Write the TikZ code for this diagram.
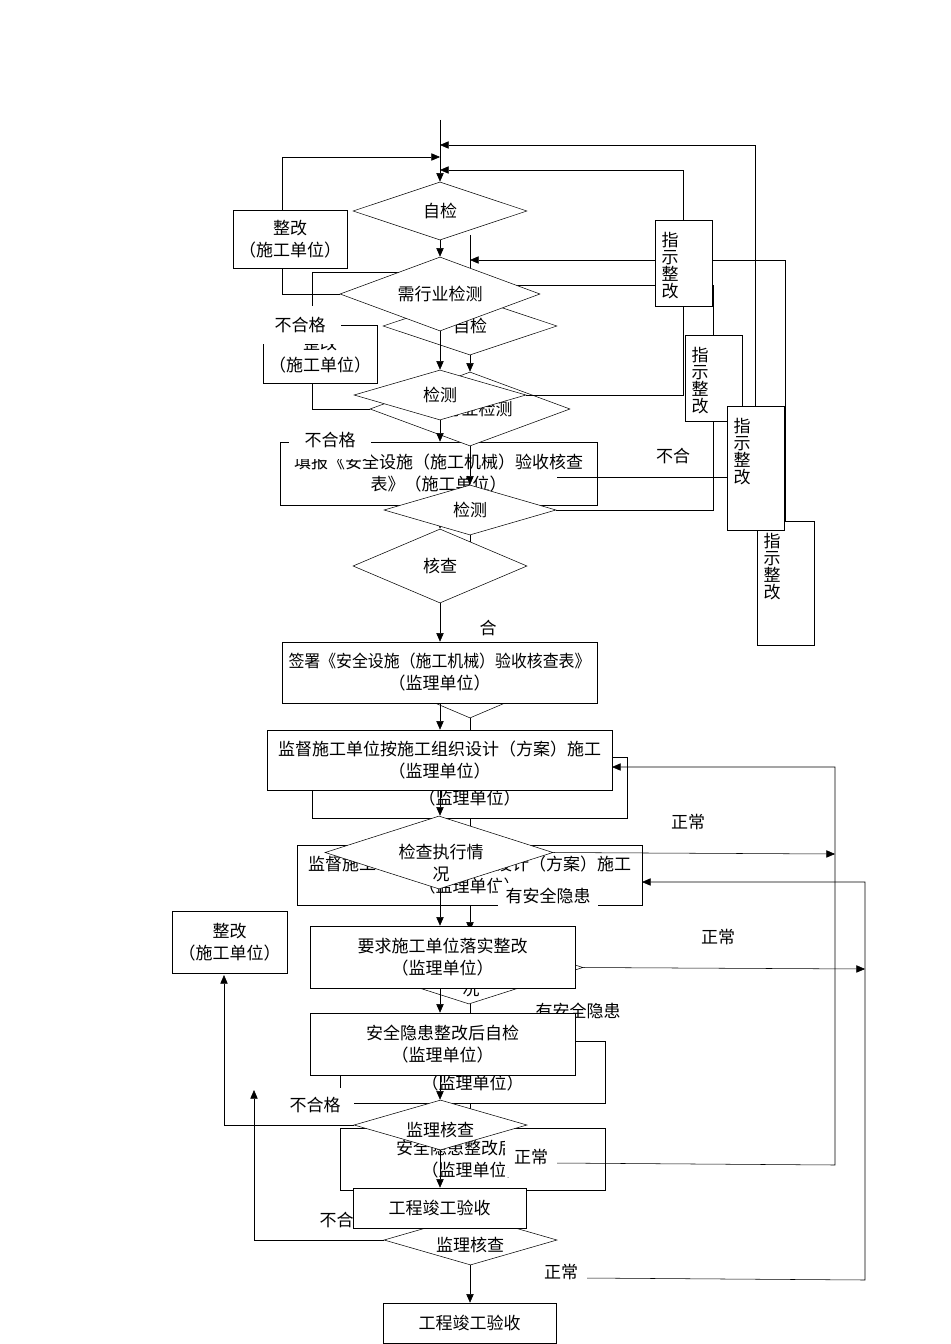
\documentclass[tikz,border=0pt]{standalone}
\usepackage{fontspec}
\usepackage{graphicx}
\newfontfamily\cjk{Noto Sans CJK SC}
\usetikzlibrary{shapes.geometric,arrows.meta}
\pgfdeclarelayer{lbg}
\pgfdeclarelayer{ltb}
\pgfdeclarelayer{lbl}
\pgfdeclarelayer{lbs}
\pgfdeclarelayer{lbt}
\pgfdeclarelayer{lal}
\pgfdeclarelayer{las}
\pgfsetlayers{lbg,ltb,lbl,lbs,lbt,lal,las,main}
% shapes of one copy of the chart
\newcommand\cpshapes[1]{%
  \node[dia,sz={174}{58}] (#1zj) at (440,211) {自检};
  \node[dia,sz={200}{74}] (#1xhy) at (440,294) {需行业检测};
  \node[dia,sz={172}{50}] (#1jc) at (440,395) {检测};
  \node[box,sz={114}{58}] (#1zga) at (290,239) {整改\\（施工单位）};
  \node[dia,sz={174}{74}] (#1hc) at (440,566) {核查};
  \node[box,sz={315}{61}] (#1qs) at (439.5,672.5) {\scalebox{0.935}[1]{签署《安全设施（施工机械）验收核查表》}\\（监理单位）};
  \node[box,sz={345}{60}] (#1jd) at (439.5,760) {监督施工单位按施工组织设计（方案）施工\\（监理单位）};
  \node[dia,sz={228}{73}] (#1jczx) at (439,852.5) {};
  \node[txt] (#1jczxt) at (441,863) {检查执行情\\况};
  \node[box,sz={265}{62}] (#1yq) at (442.5,957) {要求施工单位落实整改\\（监理单位）};
  \node[box,sz={265}{62}] (#1aq) at (442.5,1044) {安全隐患整改后自检\\（监理单位）};
  \node[dia,sz={173}{50}] (#1jl) at (440.5,1125) {};
  \node[txt] (#1jlt) at (440,1130) {监理核查};
  \node[box,sz={173}{40}] (#1gc) at (439.5,1208) {工程竣工验收};
  \node[box,sz={57}{86}] (#1zsa) at (683.5,263) {};
  \node[vtxt] (#1zsat) at (670,266) {指\\示\\整\\改};
  \node[box,sz={57}{124}] (#1zsc) at (755.5,468) {};
  \node[vtxt] (#1zsct) at (742,452) {指\\示\\整\\改};
}
% connectors of one copy
\newcommand\cplines[1]{%
  \coordinate (#1top) at (440,120);
  \coordinate (#1c145) at (440,145);
  \coordinate (#1c157) at (440,157);
  \coordinate (#1c170) at (440,170);
  \coordinate (#1zgt) at (282,210);
  \coordinate (#1zgb) at (282,268);
  \coordinate (#1c975) at (224,975);
  \coordinate (#1n1) at (835,854);
  \coordinate (#1n2) at (555,1163);
  \coordinate (#1n3) at (835,1165);
  \coordinate (#1n4) at (835,767);
  \coordinate (#1n5) at (612,767);
  \draw[arr] (#1top) -- (#1zj.north);
  \draw[arr] (#1zsc.north) |- (#1c145);
  \draw[arr] (#1zgt) |- (#1c157);
  \draw[arr] (#1zsa.north) |- (#1c170);
  \draw[arr] (#1zj.south) -- (#1xhy.north);
  \draw (#1zgb) |- (#1xhy.west);
  \draw[arr] (#1xhy.south) -- (#1jc.north);
  \draw (#1jc.east) -| (#1zsa.south);
  \draw[arr] (#1hc.south) -- (#1qs.north -| #1col);
  \draw[arr] (#1qs.south -| #1col) -- (#1jd.north -| #1col);
  \draw[arr] (#1jd.south -| #1col) -- (#1jczx.north -| #1col);
  \draw[arr] (#1jczx.south -| #1col) -- (#1yq.north -| #1col);
  \draw[arr] (#1yq.south -| #1col) -- (#1aq.north -| #1col);
  \draw[arr] (#1aq.south -| #1col) -- (#1jl.north -| #1col);
  \draw[arr] (#1jl.south -| #1col) -- (#1gc.north -| #1col);
  \draw[arr] (#1jl.west) -| (#1c975);
  \draw[arr] (#1jczx.east) -- (#1n1);
  \draw[arr] (#1n2) -- (#1n3) -- (#1n4) -- (#1n5);
}
% labels of one copy
\newcommand\cplabels[1]{%
  \node[lbl,sz={82}{38}] (#1bhg1) at (300,325) {不合格};
  \node[lbl,sz={78}{34}] (#1bhg2) at (315,1105) {不合格};
  \node[lbl,sz={100}{27}] (#1yaq) at (548,896) {有安全隐患};
  \node[txt] (#1zc1) at (688,822) {正常};
  \node[lbl,sz={52}{40}] (#1zc2) at (531,1157) {正常};
  \node[txt] (#1he) at (488,628) {合};
}
\begin{document}
\begin{tikzpicture}[x=0.75pt,y=-0.75pt,line width=0.8pt,
  txt/.style={font=\cjk\fontsize{12.75pt}{16.5pt}\selectfont, align=center, inner sep=0pt},
  vtxt/.style={font=\cjk\fontsize{12.75pt}{12.75pt}\selectfont, align=center, inner sep=0pt},
  sz/.style 2 args={minimum width=#1*0.75pt, minimum height=#2*0.75pt},
  box/.style={txt, draw, fill=white, rectangle},
  dia/.style={txt, draw, fill=white, diamond, aspect=3},
  lbl/.style={txt, fill=white},
  arr/.style={-{Triangle[length=6.5pt,width=5.5pt]}}]
\begin{pgfonlayer}{lbg}
  \fill[white] (0,0) rectangle (950,1344);
\end{pgfonlayer}
\useasboundingbox (0,0) rectangle (950,1344);
\coordinate (Acol) at (440,0);
\coordinate (Bcol) at (470,0);
\coordinate (Bstub) at (470,585);
% shapes
\begin{pgfonlayer}{lbs}
  \begin{scope}[shift={(30,115)}]\cpshapes{B}\end{scope}
\end{pgfonlayer}
\begin{pgfonlayer}{las}
  \cpshapes{A}
  \node[box,sz={115}{62}] (Azgb) at (229.5,942) {整改\\（施工单位）};
\end{pgfonlayer}
\begin{pgfonlayer}{ltb}
  \node[box,sz={317}{63}] (Atb) at (438.5,473.5) {填报《安全设施（施工机械）验收核查\\表》（施工单位）};
  \draw[arr] (Atb.south -| Acol) -- (Ahc.north);
\end{pgfonlayer}
% connectors
\begin{pgfonlayer}{lbl}
  \begin{scope}[shift={(30,115)}]
    \cplines{B}
  \end{scope}
  \draw (Bjc.south) -- (Bstub);
\end{pgfonlayer}
\begin{pgfonlayer}{lal}
  \cplines{A}
  \draw[arr] (Ajc.south) -- (Atb.north -| Acol);
\end{pgfonlayer}
% labels
\begin{pgfonlayer}{lbt}
  \begin{scope}[shift={(30,115)}]\cplabels{B}\end{scope}
\end{pgfonlayer}
\cplabels{A}
\coordinate (Ax557) at (557,477);
\draw (Ax557) -- (Ax557 -| Azsc.west);
\node[txt] (Abuhe) at (673,456) {不合};
\end{tikzpicture}
\end{document}
